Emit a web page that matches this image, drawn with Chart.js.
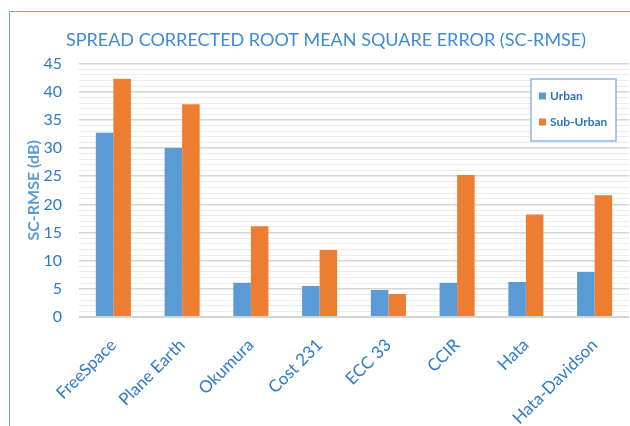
<!DOCTYPE html>
<html>
<head>
<meta charset="utf-8">
<script src="https://cdn.jsdelivr.net/npm/chart.js@4/dist/chart.umd.min.js"></script>
<style>
  html, body { margin: 0; padding: 0; background: #ffffff; }
  #wrap { position: relative; width: 630px; height: 426px; overflow: hidden; }
  /* the frame of the original chart: only top and left edges are visible */
  #frame {
    position: absolute; left: 9px; top: 11px; width: 640px; height: 440px;
    border-top: 1.5px solid #6fa6dc; border-left: 1.5px solid #6fa6dc;
    box-sizing: border-box;
  }
  canvas { position: absolute; left: 0; top: 0; }
</style>
</head>
<body>
<div id="wrap">
  <div id="frame"></div>
  <canvas id="rmseChart" width="630" height="426"></canvas>
</div>
<script>
/* =====================================
   Data
===================================== */
const models = [
  "FreeSpace", "Plane Earth", "Okumura", "Cost 231",
  "ECC 33", "CCIR", "Hata", "Hata-Davidson"
];

const urban = [32.7, 30.0, 6.1, 5.5, 4.8, 6.1, 6.2, 8.0];

const subUrban = [42.3, 37.8, 16.1, 11.9, 4.1, 25.2, 18.2, 21.6];

const seriesNames = ["Urban", "Sub-Urban"];

const yMax = 45;
const majorStep = 5;
const minorStep = 1;

/* =====================================
   Legend box drawn inside the plot
===================================== */
const boxLegend = {
  id: "boxLegend",
  afterDraw(chart) {
    const ctx = chart.ctx;
    const x = 531, y = 79, w = 85, h = 62;

    ctx.save();
    ctx.fillStyle = "#ffffff";
    ctx.fillRect(x, y, w, h);
    ctx.strokeStyle = "#8db6e4";
    ctx.lineWidth = 1.5;
    ctx.strokeRect(x, y, w, h);

    ctx.font = "bold 12px Lato";
    ctx.textBaseline = "middle";

    chart.data.datasets.forEach((ds, i) => {
      const cy = 96 + i * 26;
      ctx.fillStyle = ds.backgroundColor;
      ctx.fillRect(539, cy - 3.5, 7, 7);
      ctx.fillStyle = "#2f74c0";
      ctx.fillText(ds.label, 550, cy + 0.5);
    });

    ctx.restore();
  }
};

/* =====================================
   Chart
===================================== */
new Chart(document.getElementById("rmseChart"), {

  type: "bar",

  data: {
    labels: models,
    datasets: [
      {
        label: seriesNames[0],
        data: urban,
        backgroundColor: "#5b9bd5",
        categoryPercentage: 0.51,
        barPercentage: 1.0
      },
      {
        label: seriesNames[1],
        data: subUrban,
        backgroundColor: "#ed7d31",
        categoryPercentage: 0.51,
        barPercentage: 1.0
      }
    ]
  },

  plugins: [boxLegend],

  options: {
    responsive: false,
    animation: false,

    layout: {
      padding: { left: 23, right: 1, top: 0, bottom: 0 }
    },

    plugins: {
      legend: { display: false },
      tooltip: { enabled: false },
      title: {
        display: true,
        text: "SPREAD CORRECTED ROOT MEAN SQUARE ERROR (SC-RMSE)",
        color: "#3d8ad6",
        font: { family: "Lato", size: 18, weight: "normal" },
        padding: { top: 29, bottom: 13 }
      }
    },

    scales: {

      y: {
        min: 0,
        max: yMax,
        afterFit(scale) { scale.width = 56; },
        border: { display: false },
        title: {
          display: true,
          text: "SC-RMSE (dB)",
          color: "#5b9bd5",
          font: { family: "Lato", size: 16, weight: "bold" },
          padding: { top: 1, bottom: 0 }
        },
        ticks: {
          stepSize: minorStep,
          autoSkip: false,
          padding: 17,
          color: "#2e7bc9",
          font: { family: "Lato", size: 16 },
          callback: (v) => (v % majorStep === 0 ? v : "")
        },
        grid: {
          drawTicks: false,
          color: (c) => {
            if (c.tick.value === 0) return "#d4d4d4";
            return c.tick.value % majorStep === 0 ? "#d6d6d6" : "#ebebeb";
          },
          lineWidth: (c) => {
            if (c.tick.value === 0) return 2;
            return c.tick.value % majorStep === 0 ? 1.5 : 1;
          }
        }
      },

      x: {
        afterFit(scale) { scale.height = 109; },
        border: { display: false },
        grid: { display: false },
        ticks: {
          minRotation: 45,
          maxRotation: 45,
          padding: 10,
          color: "#2e7bc9",
          font: { family: "Lato", size: 17 }
        }
      }
    }
  }
});
</script>
</body>
</html>
